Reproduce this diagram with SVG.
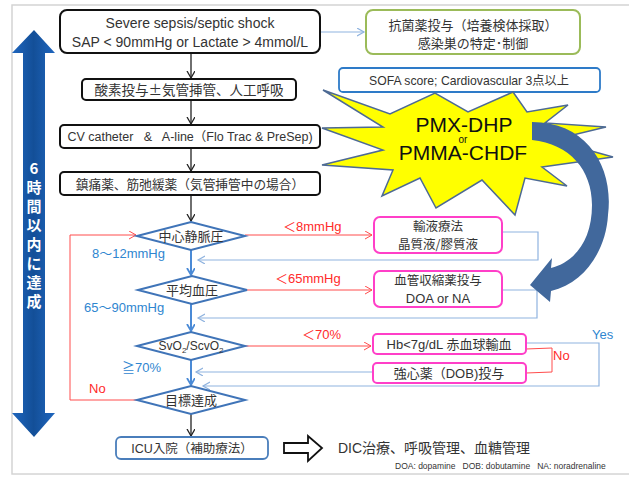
<svg xmlns="http://www.w3.org/2000/svg" width="629" height="477" viewBox="0 0 629 477">
<style>
text{font-family:"Liberation Sans","Noto Sans CJK JP",sans-serif;}
.jp{font-family:"Noto Sans CJK JP","Liberation Sans",sans-serif;}
.box{fill:#fff;stroke:#111;stroke-width:2;}
.pink{fill:#fff;stroke:#ff3fc8;stroke-width:2;}
.dia{fill:#fff;stroke:#3f74b8;stroke-width:2;}
.t{fill:#333;text-anchor:middle;}
.blk{stroke:#222;stroke-width:1.3;fill:none;}
.red{stroke:#ff4d4d;stroke-width:1;fill:none;}
.lb{stroke:#8fb3df;stroke-width:1.2;fill:none;}
.bd{stroke:#4a8ad6;stroke-width:2;fill:none;}
.rlab{fill:#ff2a2a;font-size:13px;}
.blab{fill:#2f86d0;font-size:13px;}
</style>
<defs>
<marker id="ak" markerUnits="userSpaceOnUse" markerWidth="12" markerHeight="12" refX="7" refY="4" orient="auto"><path d="M0,0 L7,4 L0,8" fill="none" stroke="#222" stroke-width="1.3"/></marker>
<marker id="ar" markerUnits="userSpaceOnUse" markerWidth="12" markerHeight="12" refX="7" refY="4" orient="auto"><path d="M0,0 L7,4 L0,8" fill="none" stroke="#ff4d4d" stroke-width="1"/></marker>
<marker id="al" markerUnits="userSpaceOnUse" markerWidth="12" markerHeight="12" refX="7" refY="4" orient="auto"><path d="M0,0 L7,4 L0,8" fill="none" stroke="#8fb3df" stroke-width="1.2"/></marker>
<marker id="ab" markerUnits="userSpaceOnUse" markerWidth="12" markerHeight="12" refX="7" refY="4" orient="auto"><path d="M0,0 L7,4 L0,8" fill="none" stroke="#4a8ad6" stroke-width="1.8"/></marker>
<linearGradient id="bg" x1="0" y1="0" x2="1" y2="0"><stop offset="0" stop-color="#1f66be"/><stop offset="0.5" stop-color="#134f98"/><stop offset="1" stop-color="#1f66be"/></linearGradient>
</defs>
<rect x="12" y="5" width="630" height="469" fill="#fff" stroke="#d4d4d4" stroke-width="1.5"/>

<g id="time-arrow">
<path d="M34,30 L55,53 L45,53 L45,413 L55,413 L34,437 L12,413 L23,413 L23,53 L12,53 Z" fill="url(#bg)"/>
<g fill="#fff" font-size="15" font-weight="bold" text-anchor="middle">
<text x="34" y="174" class="jp">6</text>
<text x="34" y="193" class="jp">時</text>
<text x="34" y="212" class="jp">間</text>
<text x="34" y="231" class="jp">以</text>
<text x="34" y="250" class="jp">内</text>
<text x="34" y="269" class="jp">に</text>
<text x="34" y="288" class="jp">達</text>
<text x="34" y="307" class="jp">成</text>
</g>
</g>

<g id="connectors">
<line class="blk" x1="191" y1="53" x2="191" y2="78" marker-end="url(#ak)"/>
<line class="blk" x1="191" y1="100" x2="191" y2="124" marker-end="url(#ak)"/>
<line class="blk" x1="191" y1="148" x2="191" y2="171" marker-end="url(#ak)"/>
<line class="blk" x1="191" y1="195" x2="191" y2="221" marker-end="url(#ak)"/>
<line class="blk" x1="191" y1="414" x2="191" y2="436" marker-end="url(#ak)"/>
<line class="lb" x1="320" y1="32" x2="364" y2="32" marker-end="url(#al)"/>
<line class="bd" x1="191" y1="250" x2="191" y2="275" marker-end="url(#ab)"/>
<line class="bd" x1="191" y1="304" x2="191" y2="331" marker-end="url(#ab)"/>
<line class="bd" x1="191" y1="360" x2="191" y2="385" marker-end="url(#ab)"/>
<line class="red" x1="245" y1="235" x2="372" y2="235" marker-end="url(#ar)"/>
<line class="red" x1="247" y1="290" x2="372" y2="290" marker-end="url(#ar)"/>
<line class="red" x1="245" y1="346" x2="371" y2="346" marker-end="url(#ar)"/>
<polyline class="red" points="137,400 70,400 70,235 136,235" marker-end="url(#ar)"/>
<polyline class="red" points="526,349 552,348 552,372 526,373"/>
<polyline class="lb" points="502,232 538,232 538,260 198,260" marker-end="url(#al)"/>
<polyline class="lb" points="502,290 537,290 537,318 198,318" marker-end="url(#al)"/>
<polyline class="lb" points="526,343 599,343 599,386 203,386" marker-end="url(#al)"/>
<line class="lb" x1="373" y1="372" x2="196" y2="372" marker-end="url(#al)"/>
</g>

<g id="start">
<rect class="box" x="60" y="10" width="260" height="43" rx="7"/>
<text class="t" x="190" y="28" font-size="14" fill="#111">Severe sepsis/septic shock</text>
<text class="t" x="190" y="47" font-size="14" fill="#111">SAP &lt; 90mmHg or Lactate &gt; 4mmol/L</text>
</g>
<g id="antibiotics">
<rect x="366" y="10" width="214" height="44" rx="7" fill="#fff" stroke="#9bbb59" stroke-width="2"/>
<text class="t jp" x="473" y="30" font-size="13">抗菌薬投与（培養検体採取）</text>
<text class="t jp" x="473" y="48" font-size="13">感染巣の特定･制御</text>
</g>
<g id="oxygen">
<rect class="box" x="82" y="79" width="214" height="21" rx="4"/>
<text class="t jp" x="189" y="95" font-size="13.5">酸素投与±気管挿管、人工呼吸</text>
</g>
<g id="sofa">
<rect x="339" y="68" width="261" height="24" rx="4" fill="#fff" stroke="#2e7bc8" stroke-width="1.8"/>
<text class="t" x="469" y="85" font-size="12.2">SOFA score; Cardiovascular 3点以上</text>
</g>
<g id="cv">
<rect class="box" x="60" y="125" width="260" height="23" rx="4"/>
<text class="t" x="190" y="141" font-size="12.5" xml:space="preserve">CV catheter   &amp;   A-line（Flo Trac &amp; PreSep)</text>
</g>
<g id="sedation">
<rect class="box" x="60" y="172" width="260" height="23" rx="4"/>
<text class="t jp" x="190" y="189" font-size="12.7">鎮痛薬、筋弛緩薬（気管挿管中の場合）</text>
</g>

<g id="pmx">
<polygon points="323,90 390,114 435,93 468,112 513,92 527,112 568,105 545,123 606,127 552,140 613,157 542,167 567,186 525,178 515,215 482,180 436,208 420,178 382,196 393,170 322,165 383,150 322,128 383,127" fill="#ffff00" stroke="#4d6a94" stroke-width="1.5" stroke-linejoin="miter"/>
<text x="464" y="132" font-size="21" text-anchor="middle" fill="#111">PMX-DHP</text>
<text x="463" y="143" font-size="10" text-anchor="middle" fill="#111">or</text>
<text x="463" y="160" font-size="21" text-anchor="middle" fill="#111">PMMA-CHDF</text>
</g>
<g id="curved-arrow">
<path d="M532,122 C588,122 614,168 608,215 C606,250 585,283 551,291 L550,302 L530,285 L552,258 L551,268 C575,262 592,240 592,205 C592,170 570,144 532,140 Z" fill="#41689c"/>
</g>

<g id="cvp">
<polygon class="dia" points="137,236 191,222 245,236 191,250"/>
<text class="t jp" x="191" y="241" font-size="13">中心静脈圧</text>
</g>
<g id="map">
<polygon class="dia" points="138,290 192,276 247,290 192,304"/>
<text class="t jp" x="192" y="295" font-size="13">平均血圧</text>
</g>
<g id="svo2">
<polygon class="dia" points="137,346 191,332 245,346 191,360"/>
<text class="t" x="191" y="350" font-size="12">SvO<tspan font-size="8" dy="3">2</tspan><tspan dy="-3">/ScvO</tspan><tspan font-size="8" dy="3">2</tspan></text>
</g>
<g id="goal">
<polygon class="dia" points="137,400 191,386 245,400 191,414"/>
<text class="t jp" x="191" y="405" font-size="13">目標達成</text>
</g>

<g id="fluid">
<rect class="pink" x="374" y="217" width="128" height="36" rx="6"/>
<text class="t jp" x="438" y="231" font-size="12.5">輸液療法</text>
<text class="t jp" x="438" y="249" font-size="12.5">晶質液/膠質液</text>
</g>
<g id="vaso">
<rect class="pink" x="374" y="271" width="128" height="36" rx="6"/>
<text class="t jp" x="438" y="285" font-size="12.5">血管収縮薬投与</text>
<text class="t" x="438" y="303" font-size="13">DOA or NA</text>
</g>
<g id="transfusion">
<rect class="pink" x="373" y="334" width="153" height="20" rx="4"/>
<text class="t" x="449" y="349" font-size="13">Hb&lt;7g/dL 赤血球輸血</text>
</g>
<g id="dob">
<rect class="pink" x="373" y="363" width="153" height="20" rx="4"/>
<text class="t" x="449" y="378" font-size="13">強心薬（DOB)投与</text>
</g>

<g id="labels">
<text class="rlab" x="283" y="231">＜8mmHg</text>
<text class="rlab" x="275" y="283">＜65mmHg</text>
<text class="rlab" x="302" y="339">＜70%</text>
<text class="rlab" x="553" y="360">No</text>
<text class="rlab" x="89" y="393">No</text>
<text class="blab" x="92" y="258">8〜12mmHg</text>
<text class="blab" x="84" y="312">65〜90mmHg</text>
<text class="blab" x="122" y="372">≧70%</text>
<text class="blab" x="592" y="339">Yes</text>
</g>

<g id="icu">
<rect x="116" y="437" width="152" height="22" rx="5" fill="#fff" stroke="#4a7ebb" stroke-width="1.8"/>
<text class="t" x="192" y="453" font-size="12.5">ICU入院（補助療法）</text>
</g>
<g id="block-arrow">
<path d="M284,443 L308,443 L308,436 L322,448 L308,461 L308,453 L284,453 Z" fill="#fff" stroke="#111" stroke-width="1.8"/>
</g>
<g id="dic">
<text x="338" y="453" font-size="14" fill="#333">DIC治療、呼吸管理、血糖管理</text>
</g>
<text x="395" y="469" font-size="8.5" fill="#333" xml:space="preserve">DOA: dopamine   DOB: dobutamine   NA: noradrenaline</text>
</svg>
